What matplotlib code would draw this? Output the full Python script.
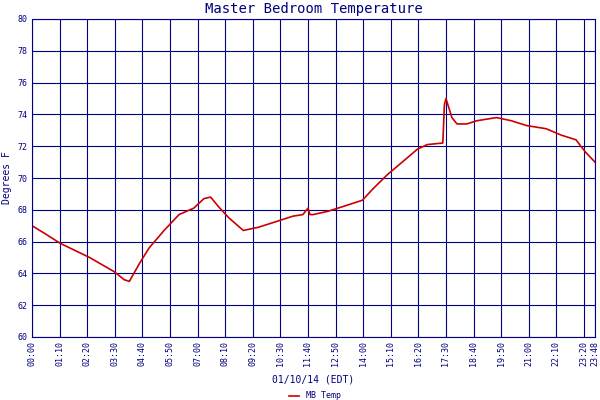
import matplotlib
matplotlib.use("Agg")
import matplotlib.pyplot as plt

minutes = [0,33,71,146,209,234,247,272,297,335,373,410,436,453,473,499,536,574,612,662,687,700,705,713,750,788,838,864,901,939,977,1002,1042,1046,1050,1065,1078,1103,1128,1153,1178,1216,1254,1304,1342,1380,1392,1405,1428]
temps = [67.0,66.5,65.9,65.0,64.1,63.6,63.5,64.6,65.6,66.7,67.7,68.1,68.7,68.8,68.2,67.5,66.7,66.9,67.2,67.6,67.7,68.1,67.7,67.7,67.9,68.2,68.6,69.3,70.2,71.0,71.8,72.1,72.2,74.6,75.0,73.8,73.4,73.4,73.6,73.7,73.8,73.6,73.3,73.1,72.7,72.4,72.0,71.6,71.0]
tick_min = [i*70 for i in range(21)] + [1428]
tick_labels = ["00:00","01:10","02:20","03:30","04:40","05:50","07:00","08:10","09:20","10:30","11:40","12:50","14:00","15:10","16:20","17:30","18:40","19:50","21:00","22:10","23:20","23:48"]
yticks = list(range(60, 81, 2))

navy = "#000080"
plt.rcParams["font.family"] = "DejaVu Sans Mono"
fig = plt.figure(figsize=(6, 4), dpi=100)
ax = fig.add_axes([32/600, 63/400, 563/600, 318/400])
ax.plot(minutes, temps, color="#cc0000", lw=1.2, label="MB Temp")
ax.set_xlim(0, 1428)
ax.set_ylim(60, 80)
ax.set_xticks(tick_min)
ax.set_xticklabels(tick_labels, rotation=90, fontsize=6, color=navy)
ax.set_yticks(yticks)
ax.set_yticklabels([str(v) for v in yticks], fontsize=6, color=navy)
ax.grid(True, color=navy, lw=0.8)
ax.tick_params(length=0, pad=3)
for s in ax.spines.values():
    s.set_color(navy)
ax.set_title("Master Bedroom Temperature", color=navy, fontsize=10, pad=4)
ax.set_ylabel("Degrees F", color=navy, fontsize=7, labelpad=4)
ax.set_xlabel("01/10/14 (EDT)", color=navy, fontsize=7, labelpad=6)
fig.legend(loc="lower center", bbox_to_anchor=(0.525, -0.02), frameon=False, fontsize=6, labelcolor=navy, handlelength=1.2)
fig.savefig("out.png", dpi=100)
